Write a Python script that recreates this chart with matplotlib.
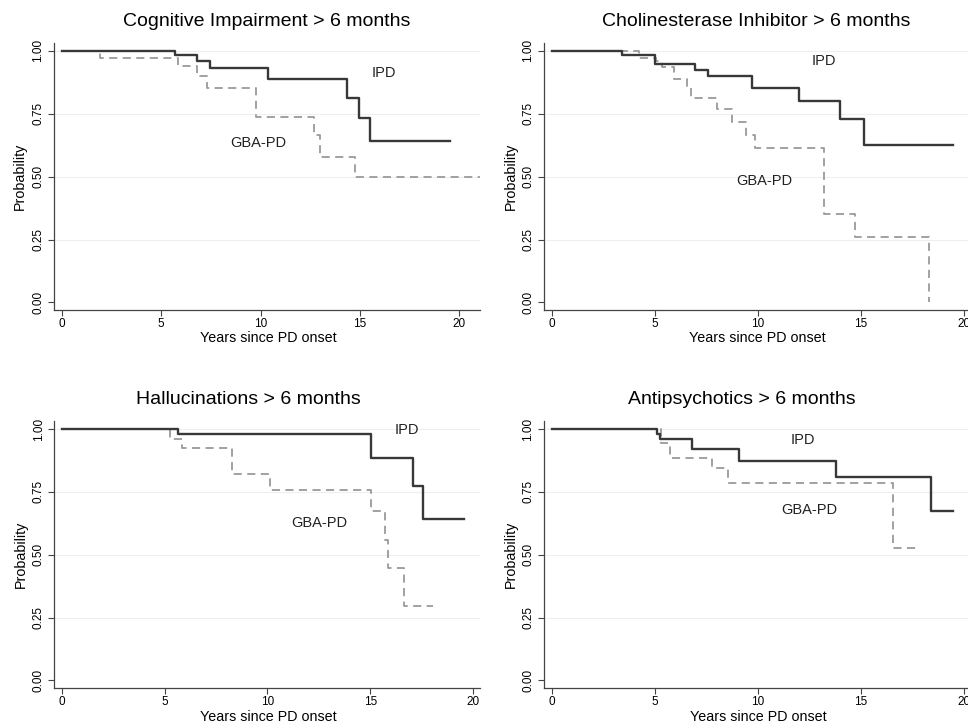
import numpy as np
import matplotlib
matplotlib.use('Agg')
import matplotlib.pyplot as plt

plt.rcParams['font.family'] = ['Liberation Sans', 'DejaVu Sans']

## Kaplan-Meier step data (years since onset, probability)
titles = ['Cognitive Impairment > 6 months', 'Cholinesterase Inhibitor > 6 months',
          'Hallucinations > 6 months', 'Antipsychotics > 6 months']

ipd_t = [
    [0, 5.70, 6.79, 7.46, 10.39, 14.37, 14.96, 15.51, 19.55],
    [0, 3.37, 5.00, 6.94, 7.59, 9.72, 12.01, 13.99, 15.18, 19.50],
    [0, 5.67, 15.03, 17.06, 17.54, 19.55],
    [0, 5.08, 5.22, 6.78, 9.10, 13.80, 18.40, 19.50],
]
ipd_s = [
    [1.0, 0.982, 0.960, 0.932, 0.888, 0.814, 0.732, 0.642, 0.642],
    [1.0, 0.983, 0.947, 0.923, 0.900, 0.853, 0.802, 0.728, 0.625, 0.625],
    [1.0, 0.979, 0.884, 0.774, 0.642, 0.642],
    [1.0, 0.980, 0.960, 0.919, 0.873, 0.807, 0.672, 0.672],
]
gba_t = [
    [0, 1.93, 5.87, 6.79, 7.29, 9.75, 12.70, 12.98, 14.75, 21.04],
    [0, 4.22, 5.03, 5.35, 5.92, 6.57, 6.73, 8.03, 8.76, 9.40, 9.84, 13.20, 14.72, 18.30],
    [0, 5.26, 5.83, 8.26, 10.12, 15.03, 15.71, 15.87, 16.63, 18.06],
    [0, 5.27, 5.75, 7.75, 8.56, 16.59, 17.88],
]
gba_s = [
    [1.0, 0.972, 0.939, 0.900, 0.853, 0.738, 0.665, 0.580, 0.500, 0.500],
    [1.0, 0.970, 0.960, 0.937, 0.888, 0.851, 0.814, 0.767, 0.718, 0.665, 0.613, 0.352, 0.262, 0.0],
    [1.0, 0.960, 0.923, 0.821, 0.758, 0.674, 0.560, 0.449, 0.298, 0.298],
    [1.0, 0.944, 0.886, 0.844, 0.784, 0.526, 0.526],
]

# label positions (years, probability)
ipd_lab = [(16.2, 0.913), (13.2, 0.960), (16.8, 0.997), (12.2, 0.955)]
gba_lab = [(9.9, 0.633), (10.3, 0.483), (12.5, 0.627), (12.5, 0.679)]

W, H = 968, 726
fig = plt.figure(figsize=(W / 100, H / 100), dpi=100)

# axes boxes in pixels: left, right, top, bottom ; x limits
boxes = [
    (54, 480, 43.3, 310, (-0.39, 21.04)),
    (544, 985, 43.3, 310, (-0.40, 21.04)),
    (54.3, 480, 421.4, 688, (-0.36, 20.33)),
    (544, 985, 421.4, 688, (-0.40, 21.04)),
]
title_pos = [(267, 21.7), (755.7, 21.7), (248.3, 399.7), (742.3, 399.7)]
xlab_pos = [(268.7, 338.5), (757.3, 338.5), (268.3, 717), (758, 717)]
ylab_pos = [(20, 176.7), (510.7, 176.7), (20.7, 554.7), (510.7, 554.7)]

for i in range(4):
    l, r, t, b, xl = boxes[i]
    ax = fig.add_axes([l / W, 1 - b / H, (r - l) / W, (b - t) / H])
    for y in [0.25, 0.5, 0.75, 1.0]:
        ax.axhline(y, color='#efefef', lw=0.8, zorder=0)
    ax.step(gba_t[i], gba_s[i], where='post', color='#9a9a9a', lw=1.3,
            linestyle=(0, (4.5, 3)))
    ax.step(ipd_t[i], ipd_s[i], where='post', color='#383838', lw=1.7)
    ax.text(ipd_lab[i][0], ipd_lab[i][1], 'IPD', fontsize=10.5, ha='center',
            va='center', color='#222222')
    ax.text(gba_lab[i][0], gba_lab[i][1], 'GBA-PD', fontsize=10.5, ha='center',
            va='center', color='#222222')
    ax.set_xlim(*xl)
    ax.set_ylim(-0.03, 1.03)
    ax.set_xticks([0, 5, 10, 15, 20])
    ax.set_yticks([0, 0.25, 0.5, 0.75, 1.0])
    ax.set_yticklabels(['0.00', '0.25', '0.50', '0.75', '1.00'], rotation=90,
                       va='center')
    ax.tick_params(labelsize=8.5, length=4, width=0.8, color='#444444', pad=3)
    ax.tick_params(axis='x', pad=2)
    for s in ['top', 'right']:
        ax.spines[s].set_visible(False)
    for s in ['left', 'bottom']:
        ax.spines[s].set_color('#444444')
        ax.spines[s].set_linewidth(0.9)

    fig.text(title_pos[i][0] / W, 1 - title_pos[i][1] / H, titles[i],
             fontsize=14, ha='center', va='center')
    fig.text(xlab_pos[i][0] / W, 1 - xlab_pos[i][1] / H, 'Years since PD onset',
             fontsize=10.3, ha='center', va='center')
    fig.text(ylab_pos[i][0] / W, 1 - ylab_pos[i][1] / H, 'Probability',
             fontsize=10.3, ha='center', va='center', rotation=90)

plt.savefig('out.png', dpi=100)
plt.close()
